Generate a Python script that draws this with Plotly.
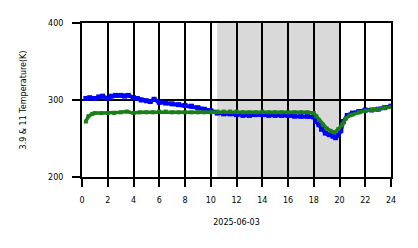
import plotly.graph_objects as go

hours_b = [0.3, 0.6, 1.0, 1.3, 1.6, 2.0, 2.3, 2.6, 3.0, 3.3, 3.6, 4.0, 4.3, 4.6, 5.0, 5.3, 5.6, 6.0, 6.5, 7.0, 7.5, 8.0,
           8.5, 9.0, 9.5, 10.0, 10.5, 11.0, 11.5, 12.0, 12.5, 13.0, 13.5, 14.0, 14.5, 15.0, 15.5, 16.0, 16.5,
           17.0, 17.5, 18.0, 18.2, 18.4, 18.6, 18.9, 19.2, 19.5, 19.7, 19.9, 20.1, 20.3, 20.6, 21.0, 21.5,
           22.0, 22.5, 23.0, 23.5, 24.0]
temp_b = [302, 303, 302, 304, 305, 302, 305, 306, 306, 305, 306, 303, 302, 300, 299, 298, 301, 297, 296, 295, 294, 293,
          292, 290, 288, 286, 283, 282, 282, 281, 280, 280, 281, 281, 280, 280, 280, 280, 279,
          279, 279, 278, 272, 268, 262, 257, 255, 253, 251, 254, 260, 272, 280, 283, 285,
          287, 287, 288, 290, 292]

hours_g = [0.3, 0.5, 0.8, 1.0, 1.5, 2.0, 2.5, 3.0, 3.5, 4.0, 4.5, 5.0, 5.5, 6.0, 6.5, 7.0, 7.5, 8.0, 8.5, 9.0,
           9.5, 10.0, 10.5, 11.0, 11.5, 12.0, 12.5, 13.0, 13.5, 14.0, 14.5, 15.0, 15.5, 16.0, 16.5, 17.0,
           17.5, 18.0, 18.2, 18.4, 18.7, 19.0, 19.3, 19.6, 19.9, 20.2, 20.5, 20.8, 21.0, 21.5, 22.0, 22.5,
           23.0, 23.5, 24.0]
temp_g = [272, 279, 282, 283, 283, 283, 283, 284, 285, 283, 284, 284, 284, 285, 285, 284, 284, 284, 284, 284,
          284, 284, 285, 285, 285, 285, 284, 284, 284, 285, 284, 284, 284, 284, 284, 284,
          284, 283, 279, 274, 268, 263, 260, 258, 262, 268, 276, 280, 281, 284, 286, 287,
          288, 290, 291]

x_ticks = list(range(0, 25, 2))
y_ticks = [200, 300, 400]
shade_start, shade_end = 10.5, 20.0

fig = go.Figure()
fig.add_trace(go.Scatter(x=hours_b, y=temp_b, mode="lines+markers",
                         line=dict(color="#0000ff", width=4), marker=dict(color="#0000ff", size=5, symbol="square"),
                         showlegend=False))
fig.add_trace(go.Scatter(x=hours_g, y=temp_g, mode="lines+markers",
                         line=dict(color="#1a7f1a", width=3.5), marker=dict(color="#1a7f1a", size=4, symbol="square"),
                         showlegend=False))
fig.add_shape(type="rect", xref="x", yref="y", x0=shade_start, x1=shade_end, y0=200, y1=400,
              fillcolor="#d9d9d9", line=dict(width=0), layer="below")

fig.update_layout(
    width=418, height=248,
    margin=dict(l=82, r=27, t=23, b=71),
    paper_bgcolor="white", plot_bgcolor="white",
    font=dict(family="DejaVu Sans", size=8, color="black"),
    xaxis=dict(range=[0, 24], tickvals=x_ticks, ticktext=[str(v) for v in x_ticks],
               showgrid=True, gridcolor="black", gridwidth=2, zeroline=False,
               ticks="outside", ticklen=8, tickwidth=2, tickcolor="black", ticklabelstandoff=6,
               title=dict(text="2025-06-03", font=dict(size=8), standoff=16),
               showline=True, linecolor="black", linewidth=2, mirror=True),
    yaxis=dict(range=[200, 400], tickvals=y_ticks, ticktext=[str(v) for v in y_ticks],
               showgrid=True, gridcolor="black", gridwidth=2, zeroline=False,
               ticks="outside", ticklen=8, tickwidth=2, tickcolor="black", ticklabelstandoff=7,
               title=dict(text="3.9 & 11 Temperature(K)", font=dict(size=8), standoff=20),
               showline=True, linecolor="black", linewidth=2, mirror=True),
)
fig.write_html("out.html")
